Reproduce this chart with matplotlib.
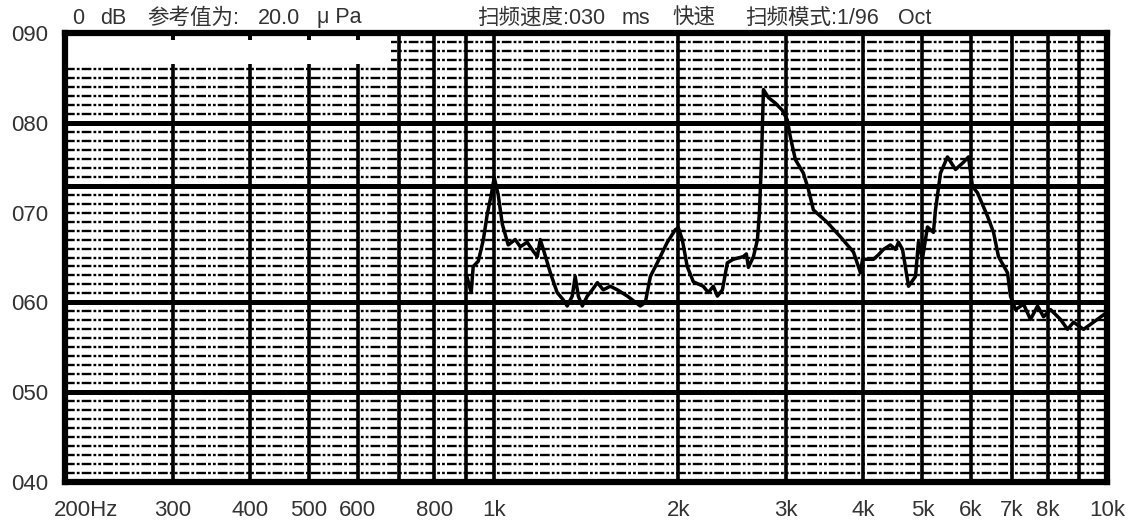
import matplotlib.pyplot as plt
import matplotlib.transforms as mtransforms
from matplotlib.patches import Rectangle
from matplotlib.ticker import NullLocator

plt.rcParams['font.family'] = ['Liberation Sans', 'Noto Sans CJK SC']
plt.rcParams['lines.scale_dashes'] = False

# frequency response trace (Hz, dB)
freq = [905, 919, 926, 944, 962, 976, 991, 1002, 1017, 1033,
        1056, 1084, 1105, 1134, 1160, 1178, 1191, 1205, 1237, 1269,
        1298, 1318, 1343, 1358, 1374, 1395, 1421, 1448, 1476, 1509,
        1549, 1591, 1652, 1734, 1767, 1801, 1848, 1919, 1978, 2000,
        2030, 2068, 2116, 2196, 2238, 2281, 2316, 2360, 2404, 2458,
        2553, 2582, 2602, 2652, 2692, 2712, 2733, 2753, 2806, 2878,
        2955, 3012, 3046, 3104, 3198, 3259, 3321, 3500, 3676, 3861,
        3963, 3994, 4161, 4240, 4320, 4435, 4520, 4571, 4641, 4747,
        4873, 4926, 5000, 5096, 5212, 5252, 5352, 5494, 5662, 5834,
        5945, 6035, 6150, 6385, 6531, 6654, 6883, 6960, 7093, 7310,
        7504, 7704, 7880, 8091, 8400, 8623, 8820, 9158, 9506, 10000]
level = [62.8, 61.1, 64.0, 64.6, 67.0, 69.8, 72.0, 73.9, 72.0, 68.7,
         66.4, 67.0, 66.2, 66.7, 65.7, 65.1, 67.0, 65.9, 63.3, 61.1,
         60.3, 59.6, 60.7, 62.9, 60.7, 59.6, 60.7, 61.4, 62.2, 61.4,
         61.8, 61.4, 60.7, 59.6, 60.0, 62.9, 64.4, 66.7, 68.1, 68.3,
         67.0, 64.0, 62.3, 61.8, 61.1, 61.8, 60.7, 61.4, 64.4, 64.8,
         65.1, 65.4, 63.9, 65.1, 67.0, 70.0, 75.9, 83.7, 82.8, 82.2,
         81.4, 80.3, 78.4, 75.9, 74.4, 72.6, 70.3, 68.9, 67.3, 65.6,
         63.3, 64.8, 64.8, 65.3, 65.9, 66.4, 65.9, 66.7, 65.9, 61.8,
         62.9, 66.7, 64.8, 68.4, 67.8, 70.3, 74.4, 76.2, 74.8, 75.6,
         76.2, 72.9, 72.2, 69.6, 67.8, 65.1, 63.3, 60.7, 59.2, 59.8,
         58.1, 59.6, 58.4, 59.2, 58.1, 57.0, 57.8, 57.0, 57.8, 58.9]

xtick_freqs = [200, 300, 400, 500, 600, 800, 1000, 2000, 3000, 4000,
               5000, 6000, 7000, 8000, 10000]
xtick_labels = ['200Hz', '300', '400', '500', '600', '800', '1k', '2k', '3k', '4k',
                '5k', '6k', '7k', '8k', '10k']
ytick_vals = [40, 50, 60, 70, 80, 90]
ytick_labels = ['040', '050', '060', '070', '080', '090']

vgrid = [300, 400, 500, 600, 700, 800, 900, 1000, 2000, 3000,
         4000, 5000, 6000, 7000, 8000, 9000]
hgrid_major = [50, 60, 73, 80]
hgrid_minor = [v for v in range(41, 90) if v not in hgrid_major]

fig = plt.figure(figsize=(11.36, 5.22), dpi=100)
ax = fig.add_axes([65/1136, 1-482/522, (1107-65)/1136, (482-33)/522])
ax.set_xscale('log')
ax.set_xlim(200, 10000)
ax.set_ylim(40, 90)

dash = (0, (7, 1.5, 2, 1.5, 7, 1.5, 2, 1.5, 2, 1.5))
ax.hlines(hgrid_minor, 200, 10000, colors='black', linewidth=1.7,
          linestyles=[dash], zorder=1)
ax.hlines(hgrid_major, 200, 10000, colors='black', linewidth=3.6, zorder=2)
ax.vlines(vgrid, 40, 90, colors='black', linewidth=2.6, zorder=2)

# blank area top-left
ax.add_patch(Rectangle((200, 86.6), 480, 2.6, facecolor='white',
                       edgecolor='none', zorder=3))
ax.vlines([f for f in vgrid if f < 680], 89.2, 90, colors='black',
          linewidth=2.6, zorder=4)

ax.plot(freq, level, color='black', linewidth=2.5, zorder=5)

for s in ax.spines.values():
    s.set_linewidth(4.5)
    s.set_zorder(6)

ax.set_xticks(xtick_freqs)
ax.set_xticklabels(xtick_labels)
ax.xaxis.set_minor_locator(NullLocator())
ax.set_yticks(ytick_vals)
ax.set_yticklabels(ytick_labels)
ax.tick_params(axis='both', length=0, labelsize=16, labelcolor='#333333')
ax.tick_params(axis='x', pad=13)
ax.tick_params(axis='y', pad=12)

lab = ax.get_xticklabels()[0]
lab.set_ha('left')
lab.set_transform(lab.get_transform() +
                  mtransforms.ScaledTranslation(-11/100, 0, fig.dpi_scale_trans))

header = [(72, '0'), (100, 'dB'), (147, '参考值为:'), (258, '20.0'),
          (317, 'μ Pa'), (477, '扫频速度:030'), (622, 'ms'), (672, '快速'),
          (745, '扫频模式:1/96'), (898, 'Oct')]
for x, s in header:
    fig.text(x/1136, 1-18/522, s, ha='left', va='center', fontsize=15.5,
             color='#333333')

fig.savefig('out.png', dpi=100)
